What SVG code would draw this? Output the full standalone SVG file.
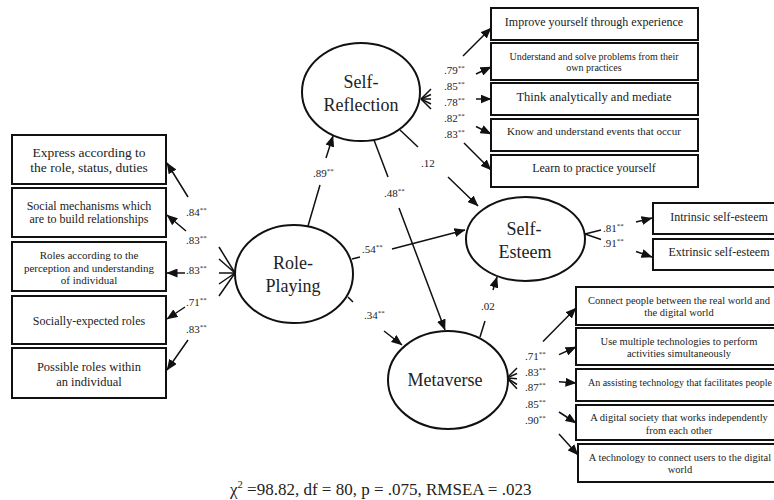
<svg xmlns="http://www.w3.org/2000/svg" width="774" height="500" viewBox="0 0 774 500" font-family="'Liberation Serif', 'DejaVu Serif', serif">
<style>
text{font-family:'Liberation Serif','DejaVu Serif',serif;fill:#222}
.box{fill:#fff;stroke:#111;stroke-width:2}
.lat{fill:#fff;stroke:#111;stroke-width:2}
.big{font-size:18px;text-anchor:middle}
.c{text-anchor:middle}
.ln{fill:none;stroke:#111;stroke-width:1.5}
.lb{font-size:11px}
.st{font-size:7px}
</style>
<defs>
<marker id="ah" markerUnits="userSpaceOnUse" markerWidth="11" markerHeight="9" refX="10.5" refY="4.5" orient="auto">
<path d="M0,0 L11,4.5 L0,9 z" fill="#111"/>
</marker>
</defs>
<rect width="774" height="500" fill="#fff"/>

<g id="connectors" class="ln">
<path d="M235,273 L219,247 M188,197 L167,163" marker-end="url(#ah)"/>
<path d="M235,273 L219,259 M186,231 L167,215" marker-end="url(#ah)"/>
<path d="M235,273 L219,273 M185,273 L167,273" marker-end="url(#ah)"/>
<path d="M235,273 L219,284 M185,307 L167,319" marker-end="url(#ah)"/>
<path d="M235,273 L219,296 M188,340 L167,370" marker-end="url(#ah)"/>
<path d="M421,99 L431,89 M463,56 L491,28" marker-end="url(#ah)"/>
<path d="M421,99 L431,94.5 M476,74 L491,67" marker-end="url(#ah)"/>
<path d="M421,99 L431,99 M476,99 L491,99" marker-end="url(#ah)"/>
<path d="M421,99 L431,104 M476,126.5 L491,134" marker-end="url(#ah)"/>
<path d="M421,99 L431,109 M464,143 L491,170" marker-end="url(#ah)"/>
<path d="M585,234 L601,230 M636,222 L652,218" marker-end="url(#ah)"/>
<path d="M585,234 L601,239.5 M636,251.5 L652,257" marker-end="url(#ah)"/>
<path d="M507,378 L517,368 M543,341.5 L576,308" marker-end="url(#ah)"/>
<path d="M507,378 L517,373.5 M559,354.6 L576,347" marker-end="url(#ah)"/>
<path d="M507,378 L517,378.7 M559,381.8 L576,383" marker-end="url(#ah)"/>
<path d="M507,378 L517,384.5 M559,412 L576,423" marker-end="url(#ah)"/>
<path d="M507,378 L517,388.8 M559,434 L578,455" marker-end="url(#ah)"/>
<path d="M308,226 L320,185 M326,158 L333,136" marker-end="url(#ah)"/>
<path d="M374,140 L388,177 M399,208 L445,330" marker-end="url(#ah)"/>
<path d="M400,130 L418,147 M448,177 L478,206" marker-end="url(#ah)"/>
<path d="M352,259 L360,257 M392,249 L465,230" marker-end="url(#ah)"/>
<path d="M348,297 L353,302 M384,331 L402,345" marker-end="url(#ah)"/>
<path d="M480,337 L485,321 M493,290 L497,277" marker-end="url(#ah)"/>
</g>

<g id="path-labels" class="lb">
<text x="186" y="216">.84<tspan class="st" dy="-4">**</tspan></text>
<text x="186" y="244">.83<tspan class="st" dy="-4">**</tspan></text>
<text x="186" y="274">.83<tspan class="st" dy="-4">**</tspan></text>
<text x="186" y="306">.71<tspan class="st" dy="-4">**</tspan></text>
<text x="186" y="333">.83<tspan class="st" dy="-4">**</tspan></text>
<text x="444" y="74">.79<tspan class="st" dy="-4">**</tspan></text>
<text x="444" y="90">.85<tspan class="st" dy="-4">**</tspan></text>
<text x="444" y="106">.78<tspan class="st" dy="-4">**</tspan></text>
<text x="444" y="122">.82<tspan class="st" dy="-4">**</tspan></text>
<text x="444" y="138">.83<tspan class="st" dy="-4">**</tspan></text>
<text x="603" y="232">.81<tspan class="st" dy="-4">**</tspan></text>
<text x="603" y="247">.91<tspan class="st" dy="-4">**</tspan></text>
<text x="525" y="360">.71<tspan class="st" dy="-4">**</tspan></text>
<text x="525" y="376">.83<tspan class="st" dy="-4">**</tspan></text>
<text x="525" y="391">.87<tspan class="st" dy="-4">**</tspan></text>
<text x="525" y="408">.85<tspan class="st" dy="-4">**</tspan></text>
<text x="525" y="424">.90<tspan class="st" dy="-4">**</tspan></text>
<text x="313" y="177">.89<tspan class="st" dy="-4">**</tspan></text>
<text x="384" y="197">.48<tspan class="st" dy="-4">**</tspan></text>
<text x="421" y="167">.12</text>
<text x="362" y="253">.54<tspan class="st" dy="-4">**</tspan></text>
<text x="364" y="319">.34<tspan class="st" dy="-4">**</tspan></text>
<text x="481" y="310">.02</text>
</g>

<g id="role-playing">
<ellipse class="lat" cx="294" cy="274" rx="59" ry="49"/>
<text class="big" x="293" y="269">Role-</text>
<text class="big" x="293" y="292">Playing</text>
</g>
<g id="self-reflection">
<ellipse class="lat" cx="361" cy="92" rx="59" ry="49"/>
<text class="big" x="361" y="88">Self-</text>
<text class="big" x="361" y="111">Reflection</text>
</g>
<g id="self-esteem">
<ellipse class="lat" cx="525.5" cy="239" rx="59.5" ry="42"/>
<text class="big" x="524" y="235">Self-</text>
<text class="big" x="525" y="258">Esteem</text>
</g>
<g id="metaverse">
<ellipse class="lat" cx="448" cy="380" rx="60" ry="49"/>
<text class="big" x="445" y="386">Metaverse</text>
</g>

<g id="rp-ind-1"><rect class="box" x="12" y="135" width="154" height="49"/>
<text class="c" x="89" y="157" font-size="13.5">Express according to</text>
<text class="c" x="89" y="172" font-size="13.5">the role, status, duties</text></g>
<g id="rp-ind-2"><rect class="box" x="12" y="188" width="154" height="49"/>
<text class="c" x="89" y="210" font-size="12">Social mechanisms which</text>
<text class="c" x="89" y="223" font-size="12">are to build relationships</text></g>
<g id="rp-ind-3"><rect class="box" x="12" y="242" width="154" height="49"/>
<text class="c" x="89" y="259" font-size="11">Roles according to the</text>
<text class="c" x="89" y="272" font-size="11">perception and understanding</text>
<text class="c" x="89" y="284" font-size="11">of individual</text></g>
<g id="rp-ind-4"><rect class="box" x="12" y="296" width="154" height="48"/>
<text class="c" x="89" y="325" font-size="12">Socially-expected roles</text></g>
<g id="rp-ind-5"><rect class="box" x="12" y="348" width="154" height="50"/>
<text class="c" x="89" y="371" font-size="12.5">Possible roles within</text>
<text class="c" x="89" y="386" font-size="12.5">an individual</text></g>

<g id="sr-ind-1"><rect class="box" x="491" y="8" width="207" height="32"/>
<text class="c" x="594" y="26" font-size="12">Improve yourself through experience</text></g>
<g id="sr-ind-2"><rect class="box" x="491" y="43" width="207" height="37"/>
<text class="c" x="594" y="59.5" font-size="10">Understand and solve problems from their</text>
<text class="c" x="594" y="70.5" font-size="10">own practices</text></g>
<g id="sr-ind-3"><rect class="box" x="491" y="83" width="207" height="32"/>
<text class="c" x="594" y="101" font-size="12.5">Think analytically and mediate</text></g>
<g id="sr-ind-4"><rect class="box" x="491" y="119" width="207" height="32"/>
<text class="c" x="594" y="135" font-size="11">Know and understand events that occur</text></g>
<g id="sr-ind-5"><rect class="box" x="491" y="155" width="207" height="32"/>
<text class="c" x="594" y="172" font-size="12">Learn to practice yourself</text></g>

<g id="se-ind-1"><rect class="box" x="653" y="203" width="125" height="31"/>
<text class="c" x="719" y="221" font-size="12">Intrinsic self-esteem</text></g>
<g id="se-ind-2"><rect class="box" x="653" y="239" width="125" height="31"/>
<text class="c" x="719" y="256" font-size="12">Extrinsic self-esteem</text></g>

<g id="mv-ind-1"><rect class="box" x="576" y="287" width="202" height="38"/>
<text class="c" x="679" y="304" font-size="10.5">Connect people between the real world and</text>
<text class="c" x="679" y="316" font-size="10.5">the digital world</text></g>
<g id="mv-ind-2"><rect class="box" x="576" y="328" width="202" height="37"/>
<text class="c" x="679" y="345" font-size="10.5">Use multiple technologies to perform</text>
<text class="c" x="679" y="357" font-size="10.5">activities simultaneously</text></g>
<g id="mv-ind-3"><rect class="box" x="576" y="369" width="202" height="32"/>
<text class="c" x="680" y="386" font-size="10">An assisting technology that facilitates people</text></g>
<g id="mv-ind-4"><rect class="box" x="576" y="405" width="202" height="35"/>
<text class="c" x="679" y="421" font-size="10.5">A digital society that works independently</text>
<text class="c" x="679" y="434" font-size="10.5">from each other</text></g>
<g id="mv-ind-5"><rect class="box" x="578" y="444" width="200" height="38"/>
<text class="c" x="680" y="461" font-size="10.5">A technology to connect users to the digital</text>
<text class="c" x="680" y="473" font-size="10.5">world</text></g>

<g id="fit">
<text x="230" y="495" font-size="17">χ<tspan font-size="10.5" dy="-7">2</tspan><tspan dy="7">  =98.82, df = 80, p = .075, RMSEA = .023</tspan></text>
</g>
</svg>
